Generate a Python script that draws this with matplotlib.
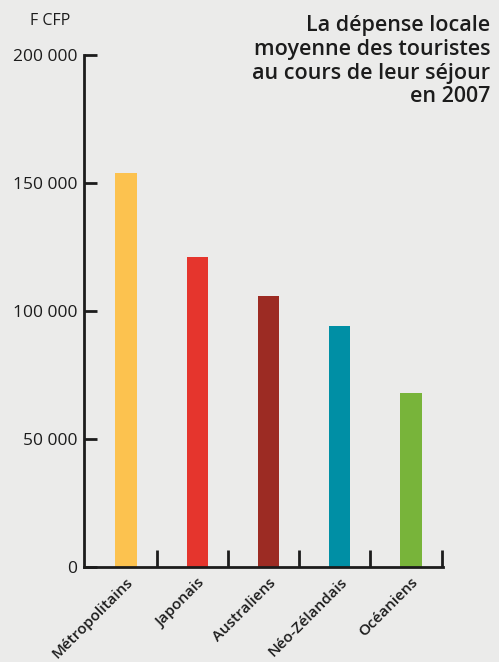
import numpy as np
import matplotlib.pyplot as plt

# Dépense locale moyenne par séjour (F CFP), 2007
categories = ['Métropolitains', 'Japonais', 'Australiens', 'Néo-Zélandais', 'Océaniens']
depense = [154000, 121000, 106000, 94000, 68000]
couleurs = ['#FCC24F', '#E5352D', '#9C2B23', '#008FA5', '#78B43A']
yticks = [0, 50000, 100000, 150000, 200000]
ytick_labels = ['0', '50 000', '100 000', '150 000', '200 000']

plt.rcParams['font.family'] = ['Open Sans', 'DejaVu Sans']
ink = '#1c1c1c'

fig = plt.figure(figsize=(4.99, 6.62), dpi=100)
fig.patch.set_facecolor('#ebebea')
ax = fig.add_axes([0.1683, 0.1435, 0.8878 - 0.1683, 0.9169 - 0.1435])
ax.set_facecolor('none')

x = np.arange(len(categories))
ax.bar(x, depense, width=0.30, color=couleurs, zorder=2)

ax.set_xlim(-0.59, 4.45)
ax.set_ylim(0, 200000)

for s in ['top', 'right']:
    ax.spines[s].set_visible(False)
for s in ['left', 'bottom']:
    ax.spines[s].set_linewidth(2)
    ax.spines[s].set_color(ink)

ax.set_yticks(yticks)
ax.set_yticklabels(ytick_labels, fontsize=12.5, color=ink)
ax.tick_params(axis='y', direction='in', length=9, width=2, color=ink, pad=5)

# category labels under the bars, tick marks between the categories
ax.set_xticks(x)
ax.set_xticklabels(categories, rotation=45, ha='right', va='top',
                   rotation_mode='anchor', fontsize=11, fontweight='semibold',
                   color=ink)
ax.tick_params(axis='x', which='major', length=0, pad=6)
ax.set_xticks(x + 0.43, minor=True)
ax.tick_params(axis='x', which='minor', direction='in', length=12, width=2, color=ink)

fig.text(0.060, 0.969, 'F CFP', fontsize=11.5, color=ink, ha='left', va='center')
fig.text(0.982, 0.977, 'La dépense locale\nmoyenne des touristes\nau cours de leur séjour\nen 2007',
         fontsize=15.5, fontweight='semibold', color=ink, ha='right', va='top',
         multialignment='right', linespacing=1.17)

fig.savefig('out.png', dpi=100, facecolor=fig.get_facecolor())
